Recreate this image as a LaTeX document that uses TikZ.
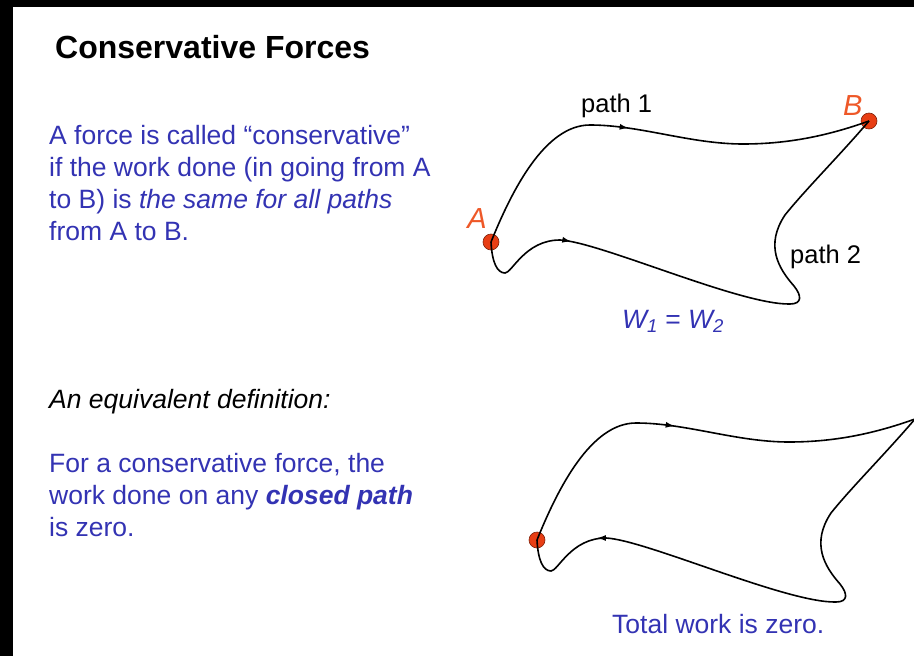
\documentclass[tikz,border=0pt]{standalone}
\usepackage{fontspec}
\setmainfont{Liberation Sans}
\usepackage{tikz}
\usetikzlibrary{decorations.markings, arrows.meta}
\definecolor{textblue}{RGB}{51,51,179}
\definecolor{pointred}{RGB}{232,62,20}
\definecolor{labelred}{RGB}{238,88,40}

\tikzset{
  weg/.style={line width=1.6pt, black},
  midarrow/.style={postaction={decorate, decoration={markings, mark=at position #1 with {\arrow{Latex[length=9pt, width=6pt]}}}}},
  backarrow/.style={postaction={decorate, decoration={markings, mark=at position #1 with {\arrow{Latex[length=9pt, width=6pt, reversed]}}}}},
  punkt/.style={circle, fill=pointred, draw=pointred!55!black, line width=0.6pt, minimum size=16pt, inner sep=0pt},
  punktlabel/.style={text=labelred, font=\fontsize{29}{30}\selectfont\itshape, inner sep=0pt},
  blautext/.style={anchor=base west, align=left, text=textblue, inner sep=0pt},
  schwarztext/.style={anchor=base west, inner sep=0pt}
}

\begin{document}
\begin{tikzpicture}[x=1pt, y=-1pt, >=latex, font=\fontsize{26.5}{32}\selectfont]
	% Bildbereich und Rand
	\useasboundingbox (0,0) rectangle (914,656);
	\fill[black] (0,0) rectangle (13,656);
	\fill[black] (0,0) rectangle (914,7);
	% Texte links (Anker: Grundlinie der letzten Zeile)
	\node[schwarztext, font=\fontsize{32}{36}\selectfont\bfseries] (titel) at (55,58) {Conservative Forces};
	\node[blautext] (def1) at (49,240) {A force is called “conservative”\\if the work done (in going from A\\to B) is \textit{the same for all paths}\\from A to B.};
	\node[schwarztext, font=\fontsize{26.5}{32}\selectfont\itshape] (aequiv) at (49,408) {An equivalent definition:};
	\node[blautext] (def2) at (49,536) {For a conservative force, the\\work done on any \textbf{\textit{closed path}}\\is zero.};
	% Wege von A nach B
	\node[punkt] (A) at (491,242) {};
	\node[punkt] (B) at (869,121) {};
	\draw[weg, midarrow=0.45] (A.center) .. controls (512,190) and (545,125) .. (590,125)
		.. controls (640,125) and (690,144) .. (743,144)
		.. controls (790,144) and (830,135) .. (B.center);
	\draw[weg, midarrow=0.2] (A.center) .. controls (492,262) and (497,273) .. (505,273)
		.. controls (512,273) and (525,240) .. (560,240)
		.. controls (600,242) and (740,305) .. (790,304)
		.. controls (802,304) and (802,296) .. (794,286)
		.. controls (778,268) and (765,245) .. (785,215)
		.. controls (805,190) and (840,155) .. (B.center);
	% Beschriftung
	\node[punktlabel, anchor=base east] (labA) at (487,228) {A};
	\node[punktlabel, anchor=base west] (labB) at (843,115) {B};
	\node[schwarztext, font=\fontsize{25.5}{30}\selectfont] (weg1) at (581,112) {path 1};
	\node[schwarztext, font=\fontsize{25.5}{30}\selectfont] (weg2) at (790,263) {path 2};
	\node[blautext] (gleich) at (622,328) {\textit{W\textsubscript{1}} = \textit{W\textsubscript{2}}};
	% Geschlossener Weg
	\begin{scope}[shift={(46,298)}]
		\node[punkt] (C) at (491,242) {};
		\coordinate (D) at (869,121);
		\draw[weg, midarrow=0.45] (C.center) .. controls (512,190) and (545,125) .. (590,125)
			.. controls (640,125) and (690,144) .. (743,144)
			.. controls (790,144) and (830,135) .. (D);
		\draw[weg, backarrow=0.18] (C.center) .. controls (492,262) and (497,273) .. (505,273)
			.. controls (512,273) and (525,240) .. (560,240)
			.. controls (600,242) and (740,305) .. (790,304)
			.. controls (802,304) and (802,296) .. (794,286)
			.. controls (778,268) and (765,245) .. (785,215)
			.. controls (805,190) and (840,155) .. (D);
	\end{scope}
	\node[blautext] (null) at (612,633) {Total work is zero.};
\end{tikzpicture}
\end{document}
